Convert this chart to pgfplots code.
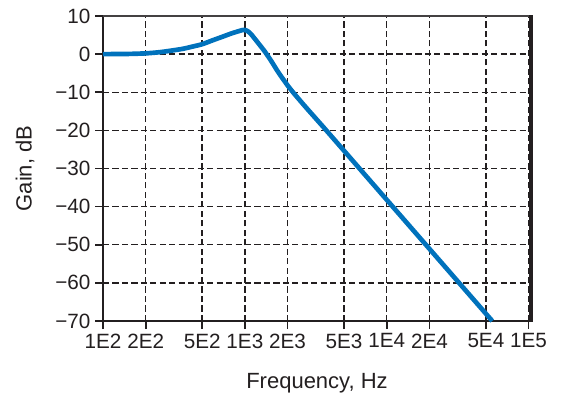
\documentclass[border=0pt]{standalone}
\usepackage{pgfplots}
\pgfplotsset{compat=1.18}
\usepackage{fontspec}
\setmainfont{Liberation Sans}
\definecolor{curve}{RGB}{0,114,188}
\definecolor{ink}{RGB}{35,31,32}
\begin{document}
\begin{tikzpicture}
\begin{axis}[name=ax,
  scale only axis, width=321pt, height=228.75pt,
  xmode=log, xmin=100, xmax=1.04e5, ymin=-70, ymax=10,
  xtick={100,200,500,1000,2000,5000,10000,20000,50000,100000},
  xticklabels={1E2,2E2,5E2,1E3,2E3,5E3,1E4,2E4,5E4,1E5},
  ytick={-70,-60,-50,-40,-30,-20,-10,0,10},
  yticklabels={−70,−60,−50,−40,−30,−20,−10,0,10},
  xminorticks=false, yminorticks=false,
  axis x line*=bottom, axis y line*=left,
  axis line style={line width=2.2pt, ink, -},
  tick align=outside, major tick length=6pt,
  tick style={line width=1.2pt, ink},
  xmajorgrids, ymajorgrids,
  major grid style={ink, line width=1.1pt, dash pattern=on 4.6pt off 2.5pt},
  ticklabel style={font=\fontsize{15.5}{17}\selectfont, text=ink},
  label style={font=\fontsize{16.5}{18}\selectfont, text=ink},
  xlabel={Frequency, Hz}, ylabel={Gain, dB},
  xlabel style={at={(axis description cs:0.5,-0.205)}, anchor=center},
  ylabel style={at={(axis description cs:-0.182,0.5)}, anchor=center},
  clip=false,
]
\addplot[curve, line width=3.5pt, line join=round, line cap=butt, smooth, tension=0.4] coordinates {
(100,0) (150,0.05) (200,0.2) (250,0.5) (300,0.9) (366,1.4) (430,2.0)
(500,2.6) (600,3.7) (700,4.6) (800,5.4) (900,6.0) (960,6.3) (1000,6.35) (1050,6.0)
(1114,5.1) (1242,2.9) (1381,0.7) (1540,-1.9) (1717,-4.7) (2000,-8.2)
(2230,-10.4) (2700,-14.0) (3750,-20) (6427,-30) (11015,-40) (18880,-50)
(32360,-60) (55460,-70)
};
\draw[ink!85, line width=1.4pt] (rel axis cs:0,1) -- (rel axis cs:1,1);
\draw[ink, line width=2.4pt] (rel axis cs:1,-0.004) -- (rel axis cs:1,1.003);
\end{axis}
\pgfresetboundingbox
\path[use as bounding box] ([xshift=-77.25pt,yshift=-57pt]ax.south west) rectangle ([xshift=25.5pt,yshift=12pt]ax.north east);
\end{tikzpicture}
\end{document}
